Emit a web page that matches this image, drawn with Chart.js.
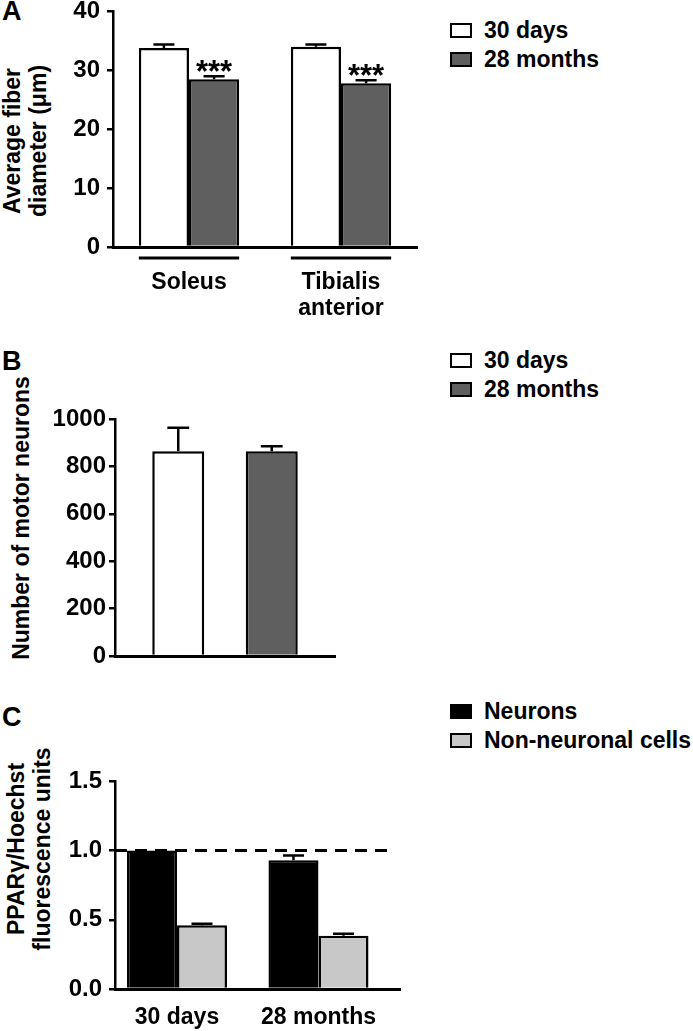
<!DOCTYPE html>
<html>
<head>
<meta charset="utf-8">
<script src="https://cdn.jsdelivr.net/npm/chart.js@4.4.1/dist/chart.umd.min.js"></script>
<style>
  body { margin: 0; width: 693px; height: 1031px; background: #fff; position: relative; overflow: hidden;
         font-family: 'Liberation Sans', Arial, sans-serif; font-weight: bold; color: #000; }
  canvas { position: absolute; left: 0; }
  .panel { position: absolute; left: 2px; font-size: 27px; line-height: 1; }
  .ytitle { position: absolute; width: 320px; text-align: center; font-size: 23px; line-height: 26px;
            transform: rotate(-90deg); white-space: nowrap; }
  .legend { position: absolute; left: 450px; font-size: 23px; }
  .legend .row { height: 29px; display: flex; align-items: center; white-space: nowrap; }
  .legend .box { width: 18px; height: 11px; border: 2.5px solid #000; margin-right: 12px; }
</style>
</head>
<body>
<div class="panel" style="top:-2px">A</div>
<div class="panel" style="top:348px">B</div>
<div class="panel" style="top:704px">C</div>

<div class="ytitle" style="left:-135px; top:115px">Average fiber<br>diameter (μm)</div>
<div class="ytitle" style="left:-139px; top:505px">Number of motor neurons</div>
<div class="ytitle" style="left:-131px; top:823px">PPARγ/Hoechst<br>fluorescence units</div>

<div class="legend" id="legendA" style="top:16px"></div>
<div class="legend" id="legendB" style="top:346px"></div>
<div class="legend" id="legendC" style="top:697px"></div>

<canvas id="chartA" width="693" height="340" style="top:-10px"></canvas>
<canvas id="chartB" width="693" height="280" style="top:400px"></canvas>
<canvas id="chartC" width="693" height="271" style="top:760px"></canvas>

<script>
// A - average fiber diameter (um)
const musclesA = ['Soleus', ['Tibialis', 'anterior']];
const agesA = ['30 days', '28 months'];
const fiber30d = [33.8, 34.0];
const fiber30dErr = [0.6, 0.4];
const fiber28m = [28.5, 27.8];
const fiber28mErr = [0.5, 0.5];
const fiber28mSig = ['***', '***'];
const yTicksA = [0, 10, 20, 30, 40];

// B - number of motor neurons
const motorCats = [''];
const agesB = ['30 days', '28 months'];
const motor30d = [864];
const motor30dErr = [99];
const motor28m = [864];
const motor28mErr = [21];
const yTicksB = [0, 200, 400, 600, 800, 1000];

// C - PPARγ/Hoechst fluorescence
const agesC = ['30 days', '28 months'];
const cellTypesC = ['Neurons', 'Non-neuronal cells'];
const neuronsC = [1.0, 0.93];
const neuronsErrC = [0, 0.035];
const nonNeuronalC = [0.46, 0.385];
const nonNeuronalErrC = [0.012, 0.014];
const referenceLevelC = 1.0;
const yTicksC = [0, 0.5, 1.0, 1.5];

const WHITE = '#ffffff', DARK = '#5f5f5f', BLACK = '#000000', LIGHT = '#c8c8c8';

Chart.defaults.font.family = "'Liberation Sans', Arial, sans-serif";
Chart.defaults.font.weight = 'bold';
Chart.defaults.color = '#000';

// upper error bars + significance marks
const errorBars = {
  id: 'errorBars',
  afterDatasetsDraw(chart) {
    const ctx = chart.ctx, ys = chart.scales.y;
    chart.data.datasets.forEach((ds, di) => {
      if (!ds.errors) return;
      const meta = chart.getDatasetMeta(di);
      meta.data.forEach((bar, i) => {
        const v = meta.controller.getParsed(i).y;
        const err = ds.errors[i] || 0;
        const top = ys.getPixelForValue(v + err);
        ctx.save();
        ctx.strokeStyle = '#000';
        ctx.lineWidth = 2.5;
        if (err > 0) {
          const cw = bar.width * 0.42;
          ctx.beginPath();
          ctx.moveTo(bar.x, bar.y);
          ctx.lineTo(bar.x, top);
          ctx.moveTo(bar.x - cw / 2, top);
          ctx.lineTo(bar.x + cw / 2, top);
          ctx.stroke();
        }
        if (ds.marks && ds.marks[i]) {
          ctx.fillStyle = '#000';
          ctx.font = "bold 31px 'Liberation Sans', Arial, sans-serif";
          ctx.textAlign = 'center';
          ctx.textBaseline = 'alphabetic';
          ctx.fillText(ds.marks[i], bar.x, top + 6);
        }
        ctx.restore();
      });
    });
  }
};

// short lines under each group of bars (panel A)
const groupLines = {
  id: 'groupLines',
  afterDraw(chart, args, opts) {
    if (!opts || !opts.gap) return;
    const ctx = chart.ctx;
    const y = chart.chartArea.bottom + opts.gap;
    const metas = chart.getSortedVisibleDatasetMetas();
    chart.data.labels.forEach((_, i) => {
      let l = Infinity, r = -Infinity;
      metas.forEach(m => {
        const b = m.data[i];
        l = Math.min(l, b.x - b.width / 2);
        r = Math.max(r, b.x + b.width / 2);
      });
      ctx.save();
      ctx.strokeStyle = '#000';
      ctx.lineWidth = 3;
      ctx.beginPath();
      ctx.moveTo(l, y);
      ctx.lineTo(r, y);
      ctx.stroke();
      ctx.restore();
    });
  }
};

// dashed reference line (panel C)
const refLine = {
  id: 'refLine',
  afterDatasetsDraw(chart, args, opts) {
    if (!opts || opts.value === undefined) return;
    const ctx = chart.ctx, a = chart.chartArea;
    const y = chart.scales.y.getPixelForValue(opts.value);
    ctx.save();
    ctx.strokeStyle = '#000';
    ctx.lineWidth = 3;
    ctx.setLineDash([12, 8]);
    ctx.beginPath();
    ctx.moveTo(a.left, y);
    ctx.lineTo(a.right - 8, y);
    ctx.stroke();
    ctx.restore();
  }
};

function yAxis(ticks, width, pad, fmt) {
  return {
    min: ticks[0],
    max: ticks[ticks.length - 1],
    afterBuildTicks: s => { s.ticks = ticks.map(v => ({ value: v })); },
    afterFit: s => { s.width = width; },
    grid: { drawOnChartArea: false, drawTicks: true, tickLength: 6, color: '#000', lineWidth: 2.5 },
    border: { color: '#000', width: 2.5 },
    ticks: { padding: pad, color: '#000', font: { size: 24, weight: 'bold' }, callback: fmt || (v => String(v)) }
  };
}

function barSet(label, data, errors, color, extra) {
  return Object.assign({
    label, data, errors,
    backgroundColor: color,
    borderColor: '#000',
    borderWidth: 2.5,
    borderSkipped: 'start'
  }, extra || {});
}

function baseOptions(padding, scales, pluginOpts) {
  return {
    responsive: false,
    animation: false,
    layout: { padding },
    plugins: Object.assign({ legend: { display: false }, tooltip: { enabled: false } }, pluginOpts || {}),
    scales
  };
}

function buildLegend(id, chart) {
  const el = document.getElementById(id);
  chart.data.datasets.forEach(ds => {
    const row = document.createElement('div');
    row.className = 'row';
    const box = document.createElement('span');
    box.className = 'box';
    box.style.background = ds.backgroundColor;
    const txt = document.createElement('span');
    txt.textContent = ds.label;
    row.appendChild(box);
    row.appendChild(txt);
    el.appendChild(row);
  });
}

// ---- A
const chartA = new Chart(document.getElementById('chartA'), {
  type: 'bar',
  data: {
    labels: musclesA,
    datasets: [
      barSet(agesA[0], fiber30d, fiber30dErr, WHITE, { categoryPercentage: 0.66, barPercentage: 1 }),
      barSet(agesA[1], fiber28m, fiber28mErr, DARK, { categoryPercentage: 0.66, barPercentage: 1, marks: fiber28mSig })
    ]
  },
  options: baseOptions({ left: 0, top: 20, right: 276, bottom: 0 }, {
    x: {
      afterFit: s => { s.height = 83; },
      grid: { display: false, drawTicks: false },
      border: { color: '#000', width: 3 },
      ticks: { padding: 22, color: '#000', font: { size: 23, weight: 'bold', lineHeight: 1.15 } }
    },
    y: yAxis(yTicksA, 113, 7)
  }, { groupLines: { gap: 11 } }),
  plugins: [errorBars, groupLines]
});
buildLegend('legendA', chartA);

// ---- B
const chartB = new Chart(document.getElementById('chartB'), {
  type: 'bar',
  data: {
    labels: motorCats,
    datasets: [
      barSet(agesB[0], motor30d, motor30dErr, WHITE, { categoryPercentage: 0.85, barPercentage: 0.556 }),
      barSet(agesB[1], motor28m, motor28mErr, DARK, { categoryPercentage: 0.85, barPercentage: 0.556 })
    ]
  },
  options: baseOptions({ left: 0, top: 19, right: 358, bottom: 0 }, {
    x: {
      afterFit: s => { s.height = 24; },
      grid: { display: false, drawTicks: false },
      border: { color: '#000', width: 3 },
      ticks: { display: false }
    },
    y: yAxis(yTicksB, 115, 3)
  }),
  plugins: [errorBars]
});
buildLegend('legendB', chartB);

// ---- C
const chartC = new Chart(document.getElementById('chartC'), {
  type: 'bar',
  data: {
    datasets: [
      barSet(cellTypesC[0], neuronsC.map((v, i) => ({ x: i, y: v })), neuronsErrC, BLACK, { categoryPercentage: 0.707, barPercentage: 1 }),
      barSet(cellTypesC[1], nonNeuronalC.map((v, i) => ({ x: i, y: v })), nonNeuronalErrC, LIGHT, { categoryPercentage: 0.707, barPercentage: 1 })
    ]
  },
  options: baseOptions({ left: 0, top: 19, right: 293, bottom: 0 }, {
    x: {
      type: 'linear',
      offset: false,
      min: -0.438,
      max: 1.576,
      afterBuildTicks: s => { s.ticks = agesC.map((_, i) => ({ value: i })); },
      afterFit: s => { s.height = 42; },
      grid: { display: false, drawTicks: false, offset: false },
      border: { color: '#000', width: 3 },
      ticks: { padding: 15, color: '#000', font: { size: 23, weight: 'bold' }, callback: v => agesC[v] }
    },
    y: yAxis(yTicksC, 115, 7, v => v.toFixed(1))
  }, { refLine: { value: referenceLevelC } }),
  plugins: [errorBars, refLine]
});
buildLegend('legendC', chartC);
</script>
</body>
</html>
